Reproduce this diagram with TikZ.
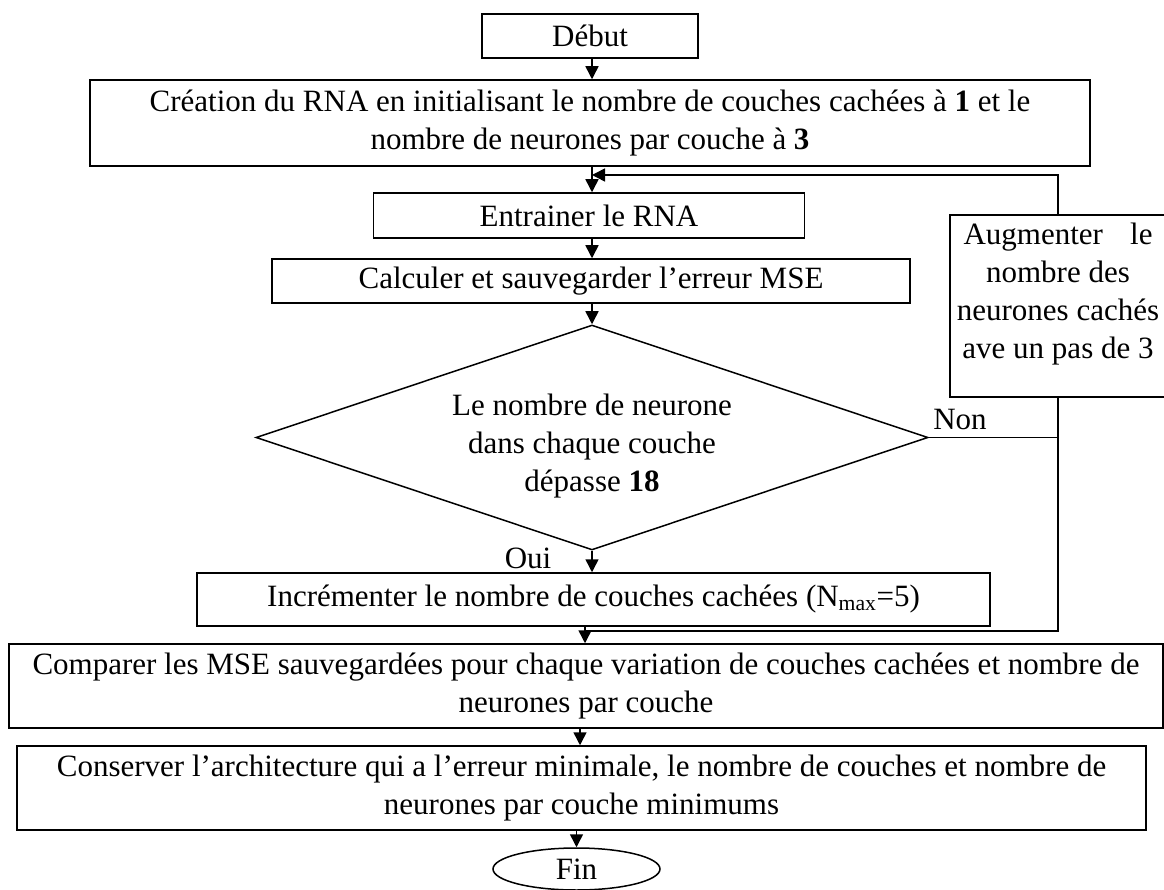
\documentclass[tikz,border=0pt]{standalone}
\usepackage{fontspec}
\setmainfont{Liberation Serif}
\usetikzlibrary{arrows.meta,shapes.geometric}
\begin{document}
\begin{tikzpicture}[x=1pt,y=-1pt,
  every node/.style={font=\fontsize{31}{38}\selectfont, inner sep=0pt, align=center},
  box/.style={draw, rectangle, line width=1.5pt},
  decision/.style={draw, diamond, aspect=2.99, line width=1.5pt},
  terminal/.style={draw, ellipse, line width=1.5pt},
  link/.style={line width=1.5pt},
  flow/.style={link, -{Triangle[length=13pt,width=13pt]}},
]
% page frame
\useasboundingbox (0,0) rectangle (1164,890);
\fill[white] (0,0) rectangle (1164,890);

% columns used by the vertical connectors
\coordinate (col) at (592,0);
\coordinate (col2) at (580,0);
\coordinate (join) at (592,175);
\coordinate (merge) at (585,631);

% steps of the flow
\node[box, minimum width=216pt, minimum height=44pt] (deb) at (590,36) {Début};
\node[box, minimum width=1000pt, minimum height=86pt] (cre) at (590,123)
  {Création du RNA en initialisant le nombre de couches cachées à \textbf{1} et le\\
   nombre de neurones par couche à \textbf{3}};
\node[box, minimum width=431pt, minimum height=45pt] (ent) at (589,215.5) {Entrainer le RNA};
\node[box, minimum width=638pt, minimum height=44pt] (cal) at (591,281)
  {Calculer et sauvegarder l’erreur MSE};
\node[decision, minimum width=672pt, minimum height=225pt] (dia) at (592,437.5)
  {\rule{0pt}{38pt}Le nombre de neurone\\ dans chaque couche\\ dépasse \textbf{18}};

% side box: frame, then its text hung from the top edge
\node[box, minimum width=216pt, minimum height=182pt] (aug) at (1058,306) {};
\node[anchor=north] (augtext) at ([yshift=-9pt]aug.north)
  {\makebox[189pt][s]{Augmenter le}\\ nombre des\\ neurones cachés\\ ave un pas de 3};

\node[box, minimum width=793pt, minimum height=53pt] (inc) at (593.5,599.5)
  {Incrémenter le nombre de couches cachées (N\textsubscript{max}=5)};
\node[box, minimum width=1154pt, minimum height=84pt] (comp) at (586,686)
  {Comparer les MSE sauvegardées pour chaque variation de couches cachées et nombre de\\
   neurones par couche};
\node[box, minimum width=1129pt, minimum height=84pt] (cons) at (581.5,788)
  {Conserver l’architecture qui a l’erreur minimale, le nombre de couches et nombre de\\
   neurones par couche minimums};
\node[terminal, minimum width=167pt, minimum height=42pt] (fin) at (576.5,869) {Fin};

% branch labels
\node (non) at (960,420) {Non};
\node (oui) at (528,558) {Oui};

% connectors
\draw[flow] (deb.south -| col) -- (cre.north -| col);
\draw[flow] (cre.south -| col) -- (ent.north -| col);
\draw[flow] (aug.north) |- (join);
\draw[flow] (ent.south -| col) -- (cal.north -| col);
\draw[flow] (cal.south -| col) -- (dia.north);
\draw[flow] (dia.south) -- (inc.north -| dia.south);
\draw[link] (dia.east) -- (dia.east -| aug.south);
\draw[link] (aug.south) |- (merge);
\draw[flow] (inc.south -| merge) -- (comp.north -| merge);
\draw[flow] (comp.south -| col2) -- (cons.north -| col2);
\draw[flow] (cons.south -| fin.north) -- (fin.north);
\end{tikzpicture}
\end{document}
